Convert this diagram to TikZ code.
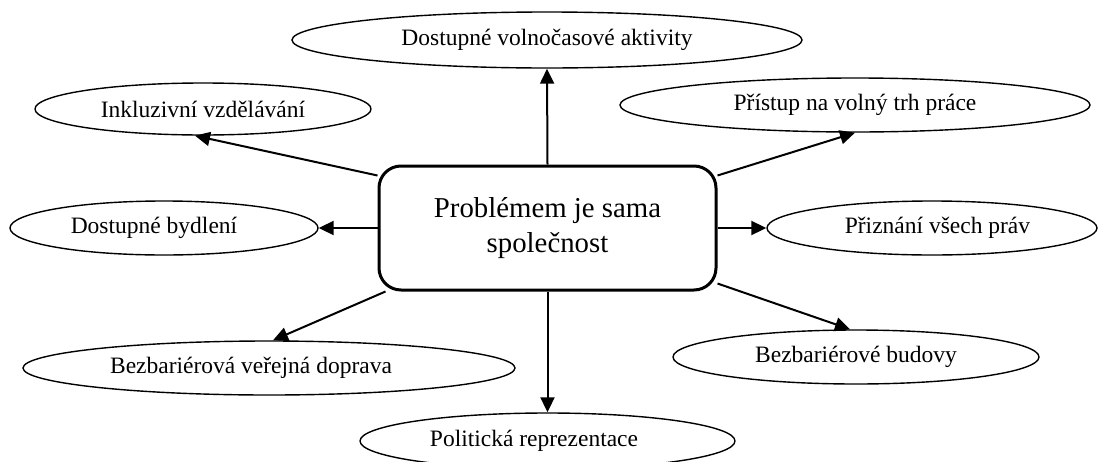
\documentclass[tikz,border=0pt]{standalone}
\usepackage{fontspec}
\setmainfont{Liberation Serif}
\usetikzlibrary{shapes.geometric,arrows.meta}
\begin{document}
\begin{tikzpicture}[x=1pt,y=-1pt,
  oval/.style={draw,ellipse,line width=1.4pt,inner sep=0pt,font=\fontsize{23.5}{28}\selectfont},
  centre/.style={draw,rectangle,rounded corners=22pt,line width=3pt,align=center,inner sep=0pt,font=\fontsize{28.8}{35}\selectfont},
  arr/.style={line width=2pt,-{Triangle[length=15pt,width=14pt]}}]
\useasboundingbox (0,0) rectangle (1098,461);
\node[centre,minimum width=337pt,minimum height=124pt] (box) at (547.5,228) {Problémem je sama\\společnost};
\node[oval,minimum width=510pt,minimum height=56pt] (vol) at (547,40) {Dostupné volnočasové aktivity};
\node[oval,minimum width=336pt,minimum height=52pt] (ink) at (203,109) {Inkluzivní vzdělávání};
\node[oval,minimum width=308pt,minimum height=54pt] (byd) at (164,228) {Dostupné bydlení\hspace*{20pt}};
\node[oval,minimum width=492pt,minimum height=54pt] (dop) at (269,368) {Bezbariérová veřejná doprava\hspace*{36pt}};
\node[oval,minimum width=375pt,minimum height=56pt] (pol) at (547.5,441) {Politická reprezentace\hspace*{27pt}};
\node[oval,minimum width=470pt,minimum height=54pt] (pri) at (855,105) {Přístup na volný trh práce};
\node[oval,minimum width=330pt,minimum height=54pt] (priz) at (932,228) {\hspace*{11pt}Přiznání všech práv};
\node[oval,minimum width=366pt,minimum height=54pt] (bud) at (856,357) {Bezbariérové budovy};
\draw[arr] (box.north) -- (vol.south);
\draw[arr] ([yshift=-11pt]box.north west) -- ([xshift=-8pt]ink.south);
\draw[arr] (box.west) -- (byd.east);
\draw[arr] ([xshift=8pt]box.south west) -- ([xshift=4pt]dop.north);
\draw[arr] (box.south) -- (pol.north);
\draw[arr] ([yshift=-11pt]box.north east) -- (pri.south);
\draw[arr] (box.east) -- (priz.west);
\draw[arr] ([yshift=8pt]box.south east) -- ([xshift=-6pt]bud.north);
\end{tikzpicture}
\end{document}
